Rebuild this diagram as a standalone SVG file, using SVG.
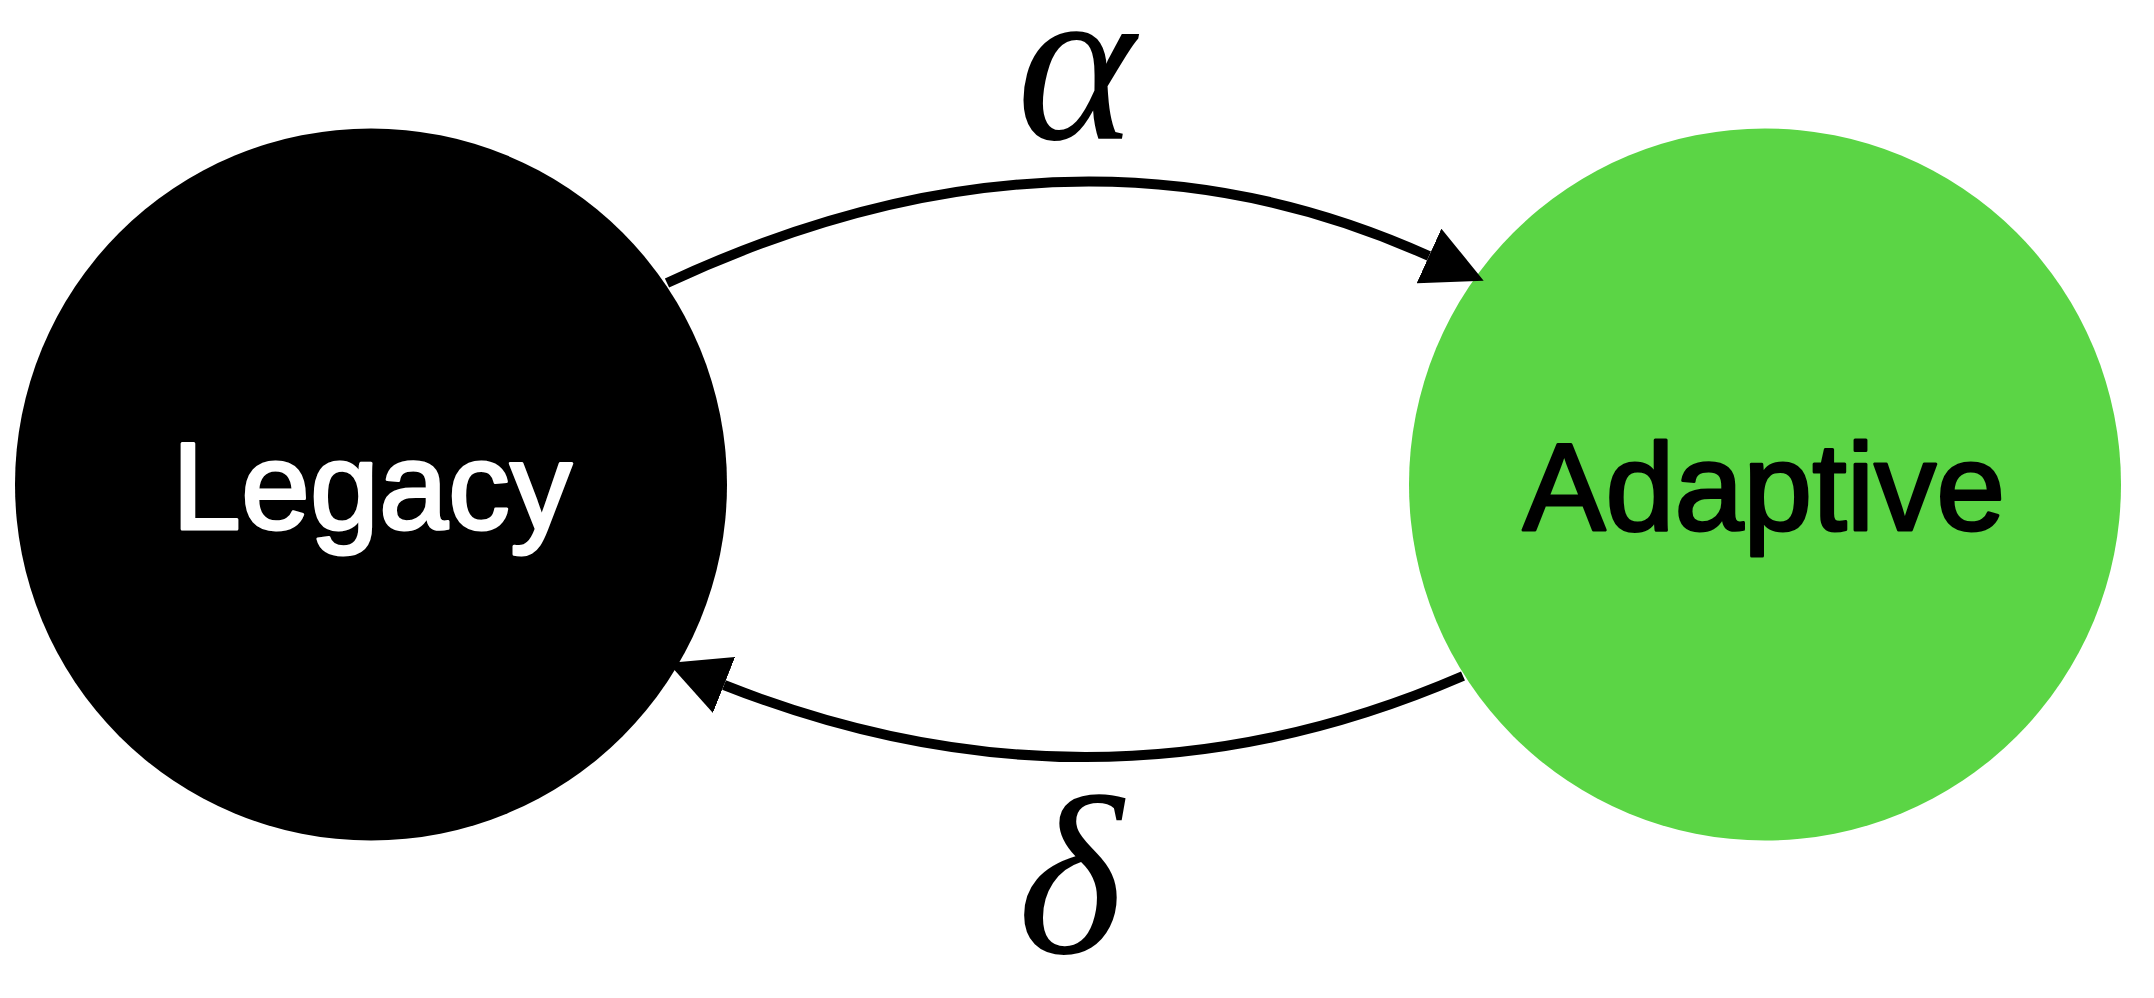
<svg xmlns="http://www.w3.org/2000/svg" width="2154" height="998" viewBox="0 0 2154 998">
  <style>
    .node-label { font-family: "Liberation Sans", Arial, Helvetica, sans-serif; font-size: 124px; text-anchor: middle; stroke-width: 3; stroke-linejoin: round; }
    .edge { fill: none; stroke: #000; stroke-width: 10; }
    .edge-label { font-family: "Liberation Serif", "Times New Roman", serif; font-style: italic; font-size: 226px; text-anchor: middle; fill: #000; }
  </style>
  <defs>
    <!-- filled triangular head, 50 long and 50 wide, aligned to the path end -->
    <marker id="arrow" markerUnits="userSpaceOnUse" markerWidth="60" markerHeight="60" refX="0" refY="25" orient="auto" viewBox="0 0 50 50">
      <path d="M0,0 L50,25 L0,50 z" fill="#000"/>
    </marker>
  </defs>
  <rect width="2154" height="998" fill="#fff"/>

  <g id="legacy">
    <circle cx="371" cy="484.5" r="356" fill="#000"/>
    <text class="node-label" x="372" y="529" fill="#fff" stroke="#fff">Legacy</text>
  </g>

  <g id="adaptive">
    <circle cx="1765" cy="484.5" r="356" fill="#5BD545"/>
    <text class="node-label" x="1764" y="530" fill="#000" stroke="#000">Adaptive</text>
  </g>

  <g id="connectors">
    <path class="edge" d="M667,283 Q1071,94.5 1429,256" marker-end="url(#arrow)"/>
    <path class="edge" d="M1463,676 Q1099,833.5 724,685" marker-end="url(#arrow)"/>
  </g>

  <g id="edge-labels">
    <text class="edge-label" x="1076" y="139">α</text>
    <text class="edge-label" x="1070" y="953">δ</text>
  </g>
</svg>
